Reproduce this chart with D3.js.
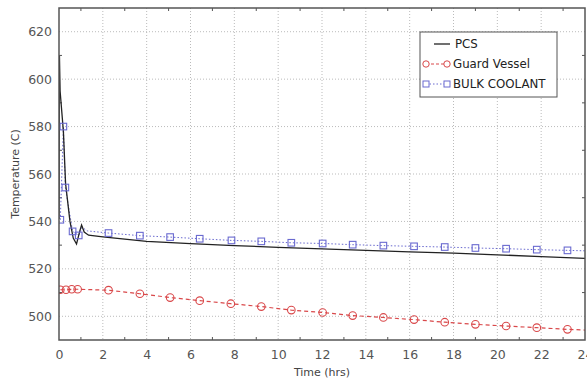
<!DOCTYPE html>
<html><head><meta charset="utf-8">
<script src="https://cdn.jsdelivr.net/npm/d3@7"></script>
<style>body{margin:0;background:#fff}svg{display:block}</style>
</head><body>
<script>
const xTicks = [0,2,4,6,8,10,12,14,16,18,20,22,24];
const yTicks = [500,520,540,560,580,600,620];
const seriesNames = ["PCS","Guard Vessel","BULK COOLANT"];
const pcsT = [0,0.02,0.05,0.2,0.3,0.5,0.65,0.8,0.95,1.03,1.15,1.35,2,3,4,6,8,10,12,14,16,18,20,22,24];
const pcsV = [541,610,595,578,556,540,533,530.5,536,538.5,535.5,534.2,533.5,532.5,531.6,530.6,529.8,529.1,528.4,527.8,527.2,526.6,525.9,525.2,524.4];
const gvT = [0.06,0.32,0.58,0.85,2.26,3.69,5.07,6.42,7.84,9.23,10.6,12.03,13.4,14.8,16.2,17.6,19.0,20.4,21.8,23.2,24];
const gvV = [511.2,511.2,511.4,511.4,511.0,509.5,507.9,506.6,505.3,504.1,502.6,501.6,500.3,499.5,498.6,497.5,496.6,495.9,495.2,494.5,494.2];
const gvMark = [1,1,1,1,1,1,1,1,1,1,1,1,1,1,1,1,1,1,1,1,0];
const bcT = [0.06,0.2,0.29,0.62,0.9,1.05,1.3,2.26,3.69,5.07,6.42,7.87,9.23,10.6,12.03,13.4,14.8,16.2,17.6,19.0,20.4,21.8,23.2,24];
const bcV = [540.7,580,554.3,535.8,534.1,537.5,536,535.1,534,533.4,532.7,532,531.6,531,530.7,530.2,529.8,529.5,529.2,528.8,528.5,528.1,527.8,527.6];
const bcMark = [1,1,1,1,1,0,0,1,1,1,1,1,1,1,1,1,1,1,1,1,1,1,1,0];

const W=587,H=381;
const m={l:59,r:2,t:8,b:41};
const svg=d3.select("body").append("svg").attr("width",W).attr("height",H);
const x=d3.scaleLinear().domain([0,24]).range([m.l,W-m.r]);
const y=d3.scaleLinear().domain([490,630]).range([H-m.b,m.t]);
const font="DejaVu Sans, Verdana, sans-serif";

svg.append("defs").append("clipPath").attr("id","clip").append("rect")
  .attr("x",m.l).attr("y",m.t).attr("width",W-m.r-m.l).attr("height",H-m.b-m.t);

// grid
const g=svg.append("g");
g.selectAll(".vg").data(xTicks.slice(1,-1)).join("line")
  .attr("x1",d=>x(d)).attr("x2",d=>x(d)).attr("y1",m.t).attr("y2",H-m.b)
  .attr("stroke","#bbb").attr("stroke-dasharray","1,2");
g.selectAll(".hg").data(yTicks).join("line")
  .attr("y1",d=>y(d)).attr("y2",d=>y(d)).attr("x1",m.l).attr("x2",W-m.r)
  .attr("stroke","#bbb").attr("stroke-dasharray","1,2");

// axes with inner ticks
const xAxis=d3.axisBottom(x).tickValues(xTicks).tickSize(0).tickPadding(10).tickFormat(d3.format("d"));
const yAxis=d3.axisLeft(y).tickValues(yTicks).tickSize(0).tickPadding(7).tickFormat(d3.format("d"));
const ax=svg.append("g").attr("transform",`translate(0,${H-m.b})`).call(xAxis);
const ay=svg.append("g").attr("transform",`translate(${m.l},0)`).call(yAxis);
[ax,ay].forEach(a=>{a.select(".domain").remove();a.selectAll("text").attr("font-family",font).attr("font-size",12.5).attr("fill","#555");});

// minor ticks
const minorX=d3.range(1,24,2);
svg.append("g").selectAll("line").data(minorX).join("line")
  .attr("x1",d=>x(d)).attr("x2",d=>x(d)).attr("y1",H-m.b).attr("y2",H-m.b-3).attr("stroke","#555");
svg.append("g").selectAll("line").data(minorX).join("line")
  .attr("x1",d=>x(d)).attr("x2",d=>x(d)).attr("y1",m.t).attr("y2",m.t+3).attr("stroke","#555");
const minorY=d3.range(510,630,20);
svg.append("g").selectAll("line").data(minorY).join("line")
  .attr("y1",d=>y(d)).attr("y2",d=>y(d)).attr("x1",W-m.r).attr("x2",W-m.r-3).attr("stroke","#555");
svg.append("g").selectAll("line").data(minorY).join("line")
  .attr("y1",d=>y(d)).attr("y2",d=>y(d)).attr("x1",m.l).attr("x2",m.l+3).attr("stroke","#555");

// series
const plot=svg.append("g").attr("clip-path","url(#clip)");
const line=d3.line().x(d=>x(d[0])).y(d=>y(d[1]));
const pcs=pcsT.map((t,i)=>[t,pcsV[i]]);
const gv=gvT.map((t,i)=>[t,gvV[i]]);
const bc=bcT.map((t,i)=>[t,bcV[i]]);
const red="#d9484a", blue="#6a6ad0";

plot.append("path").datum(bc).attr("d",line).attr("fill","none").attr("stroke",blue).attr("stroke-width",1).attr("stroke-dasharray","1.5,2");
plot.append("path").datum(gv).attr("d",line).attr("fill","none").attr("stroke",red).attr("stroke-width",1.2).attr("stroke-dasharray","4,3");
plot.append("path").datum(pcs).attr("d",line).attr("fill","none").attr("stroke","#222").attr("stroke-width",1.3);

plot.selectAll(".gvm").data(gv.filter((d,i)=>gvMark[i])).join("circle")
  .attr("cx",d=>x(d[0])).attr("cy",d=>y(d[1])).attr("r",3.8)
  .attr("fill","none").attr("stroke",red).attr("stroke-width",1.1);
plot.selectAll(".bcm").data(bc.filter((d,i)=>bcMark[i])).join("rect")
  .attr("x",d=>x(d[0])-3.3).attr("y",d=>y(d[1])-3.3).attr("width",6.6).attr("height",6.6)
  .attr("fill","none").attr("stroke",blue).attr("stroke-width",1.1);

// frame
svg.append("rect").attr("x",m.l).attr("y",m.t).attr("width",W-m.r-m.l).attr("height",H-m.b-m.t)
  .attr("fill","none").attr("stroke","#555").attr("stroke-width",1.5);

// axis titles
svg.append("text").attr("x",(m.l+W-m.r)/2).attr("y",376).attr("text-anchor","middle")
  .attr("font-family",font).attr("font-size",11).attr("fill","#444").text("Time (hrs)");
svg.append("text").attr("transform",`translate(19,${(m.t+H-m.b)/2}) rotate(-90)`).attr("text-anchor","middle")
  .attr("font-family",font).attr("font-size",11).attr("fill","#444").text("Temperature (C)");

// legend
const lg=svg.append("g");
lg.append("rect").attr("x",420).attr("y",32).attr("width",137).attr("height",65)
  .attr("fill","#fff").attr("stroke","#555").attr("stroke-width",1);
const ly=[44,64,84];
lg.append("line").attr("x1",434).attr("x2",450).attr("y1",ly[0]).attr("y2",ly[0]).attr("stroke","#222").attr("stroke-width",1.3);
lg.append("line").attr("x1",426).attr("x2",447).attr("y1",ly[1]).attr("y2",ly[1]).attr("stroke",red).attr("stroke-dasharray","3,2");
lg.selectAll(".lc").data([426,447]).join("circle").attr("cx",d=>d).attr("cy",ly[1]).attr("r",3.2).attr("fill","#fff").attr("stroke",red);
lg.append("line").attr("x1",426).attr("x2",447).attr("y1",ly[2]).attr("y2",ly[2]).attr("stroke",blue).attr("stroke-dasharray","1.5,2");
lg.selectAll(".ls").data([426,447]).join("rect").attr("x",d=>d-3).attr("y",ly[2]-3).attr("width",6).attr("height",6).attr("fill","#fff").attr("stroke",blue);
lg.selectAll(".lt").data(seriesNames).join("text")
  .attr("x",(d,i)=>i===0?455:453).attr("y",(d,i)=>ly[i]+4)
  .attr("font-family",font).attr("font-size",11.8).attr("fill","#222").text(d=>d);
</script>
</body></html>
